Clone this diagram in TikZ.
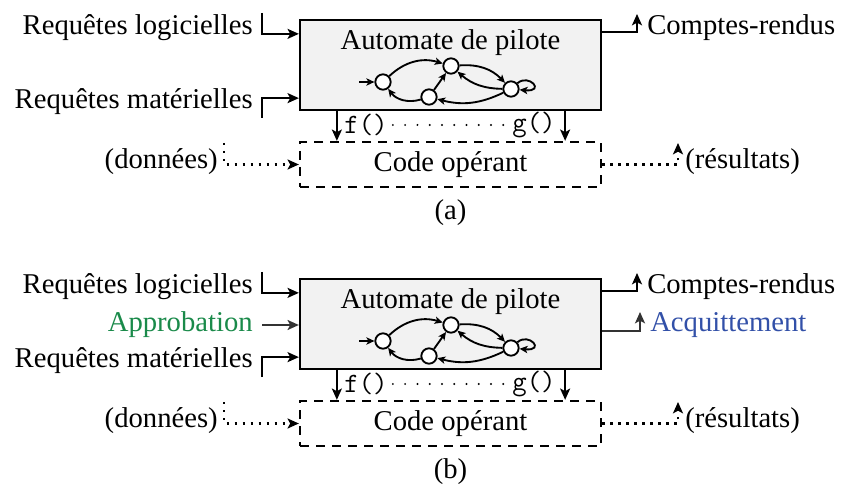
\documentclass[tikz,border=0pt]{standalone}
\usepackage{fontspec}
\setmainfont{Liberation Serif}
\usetikzlibrary{arrows.meta,calc}
\definecolor{approgreen}{RGB}{26,138,74}
\definecolor{acqblue}{RGB}{50,80,168}

\begin{document}
\begin{tikzpicture}[x=0.75pt,y=0.75pt,yscale=-1,xscale=1,
  every node/.style={font=\fontsize{21.5}{24}\selectfont,inner sep=0pt},
  autobox/.style={draw,line width=1.7pt,fill=gray!10,minimum width=225.75pt,minimum height=67.5pt},
  codebox/.style={draw,line width=1.7pt,dash pattern=on 7pt off 5pt,minimum width=225.75pt,minimum height=33.75pt},
  wire/.style={line width=1.5pt,-{Stealth[length=8.5pt,width=7.5pt,inset=2pt]}},
  graywire/.style={wire,draw=black!80},
  datawire/.style={wire,line width=1.8pt,dash pattern=on 1.8pt off 4.2pt},
  fndots/.style={line width=1.6pt,line cap=round,dash pattern=on 0pt off 9.2pt},
  state/.style={circle,draw,line width=1.4pt,fill=white,minimum size=11.5pt},
  trans/.style={line width=1.4pt,-{Stealth[length=6pt,width=5.5pt,inset=1.5pt]}},
  fn/.style={font=\ttfamily\fontsize{21}{22}\selectfont},
]
\path[use as bounding box] (0,0) rectangle (846,488);

%%%%%%%%%%%%%%%% (a)
%Shape: Automate de pilote
\node[autobox] (autoA) at (450.5,65) {};
\node (titleA) at (450.5,43) {Automate de pilote};
%Shape: Code operant
\node[codebox] (codeA) at (450.5,164.5) {Code opérant};

%Automaton
\node[state] (s0A) at (383,82) {};
\node[state] (s1A) at (451,66) {};
\node[state] (s2A) at (429,97) {};
\node[state] (s3A) at (511,89) {};
\coordinate (initA) at (359,82);
\draw[trans] (initA) -- (s0A);
\draw[trans] (s0A) to[bend right=30] (s1A);
\draw[trans] (s1A) to[bend right=25] (s3A);
\draw[trans] (s3A) to[bend right=20] (s1A);
\draw[trans] (s3A) to[bend right=20] (s2A);
\draw[trans] (s2A) to[bend right=35] (s0A);
\draw[trans] (s2A) -- (s1A);
\draw[trans] (s3A) to[out=-60,in=10,looseness=7] (s3A);

% Text Node
\node[anchor=east] (rlA) at (253,28) {Requêtes logicielles};
\coordinate (rlinA) at (262,13);
\draw[wire] (rlinA) |- ($(autoA.north west)+(0,15)$);
% Text Node
\node[anchor=east] (rmA) at (253,102) {Requêtes matérielles};
\coordinate (rminA) at (262,118);
\draw[wire] (rminA) |- ($(autoA.south west)+(0,-13)$);
% Text Node
\node[anchor=west] (crA) at (647,28) {Comptes-rendus};
\coordinate (croutA) at (637,14);
\draw[wire] ($(autoA.north east)+(0,13)$) -| (croutA);

%Calls
\node[fn] (fA) at (366,125) {f()};
\node[fn] (gA) at (534,125) {g()};
\draw[fndots] ($(fA.east)+(5,0)$) -- ($(gA.west)+(-2,0)$);
\draw[wire] ($(autoA.south west)+(38,0)$) -- ($(codeA.north west)+(38,0)$);
\draw[wire] ($(autoA.south east)+(-37,0)$) -- ($(codeA.north east)+(-37,0)$);

% Text Node
\node[anchor=east] (donA) at (218,162) {(données)};
\coordinate (donsA) at (224,143);
\draw[datawire] (donsA) |- (codeA.west);
% Text Node
\node[anchor=west] (resA) at (685,162) {(résultats)};
\coordinate (resoutA) at (678,143);
\draw[datawire] (codeA.east) -| (resoutA);

\node (capA) at (450.5,213) {(a)};

%%%%%%%%%%%%%%%% (b)
\begin{scope}[shift={(0,259)}]
%Shape: Automate de pilote
\node[autobox] (autoB) at (450.5,65) {};
\node (titleB) at (450.5,43) {Automate de pilote};
%Shape: Code operant
\node[codebox] (codeB) at (450.5,164.5) {Code opérant};

%Automaton
\node[state] (s0B) at (383,82) {};
\node[state] (s1B) at (451,66) {};
\node[state] (s2B) at (429,97) {};
\node[state] (s3B) at (511,89) {};
\coordinate (initB) at (359,82);
\draw[trans] (initB) -- (s0B);
\draw[trans] (s0B) to[bend right=30] (s1B);
\draw[trans] (s1B) to[bend right=25] (s3B);
\draw[trans] (s3B) to[bend right=20] (s1B);
\draw[trans] (s3B) to[bend right=20] (s2B);
\draw[trans] (s2B) to[bend right=35] (s0B);
\draw[trans] (s2B) -- (s1B);
\draw[trans] (s3B) to[out=-60,in=10,looseness=7] (s3B);

% Text Node
\node[anchor=east] (rlB) at (253,28) {Requêtes logicielles};
\coordinate (rlinB) at (262,13);
\draw[wire] (rlinB) |- ($(autoB.north west)+(0,15)$);
% Text Node
\node[anchor=east,text=approgreen] (apB) at (253,66) {Approbation};
\draw[graywire] ($(apB.east)+(9,0)$) -- (apB.east -| autoB.west);
% Text Node
\node[anchor=east] (rmB) at (253,102) {Requêtes matérielles};
\coordinate (rminB) at (262,118);
\draw[wire] (rminB) |- ($(autoB.south west)+(0,-13)$);
% Text Node
\node[anchor=west] (crB) at (647,28) {Comptes-rendus};
\coordinate (croutB) at (637,14);
\draw[wire] ($(autoB.north east)+(0,13)$) -| (croutB);
% Text Node
\node[anchor=west,text=acqblue] (acB) at (650,66) {Acquittement};
\coordinate (acoutB) at (640,53);
\draw[graywire] ($(autoB.north east)+(0,53)$) -| (acoutB);

%Calls
\node[fn] (fB) at (366,125) {f()};
\node[fn] (gB) at (534,125) {g()};
\draw[fndots] ($(fB.east)+(5,0)$) -- ($(gB.west)+(-2,0)$);
\draw[wire] ($(autoB.south west)+(38,0)$) -- ($(codeB.north west)+(38,0)$);
\draw[wire] ($(autoB.south east)+(-37,0)$) -- ($(codeB.north east)+(-37,0)$);

% Text Node
\node[anchor=east] (donB) at (218,162) {(données)};
\coordinate (donsB) at (224,143);
\draw[datawire] (donsB) |- (codeB.west);
% Text Node
\node[anchor=west] (resB) at (685,162) {(résultats)};
\coordinate (resoutB) at (678,143);
\draw[datawire] (codeB.east) -| (resoutB);

\node (capB) at (450.5,213) {(b)};
\end{scope}

\end{tikzpicture}
\end{document}
